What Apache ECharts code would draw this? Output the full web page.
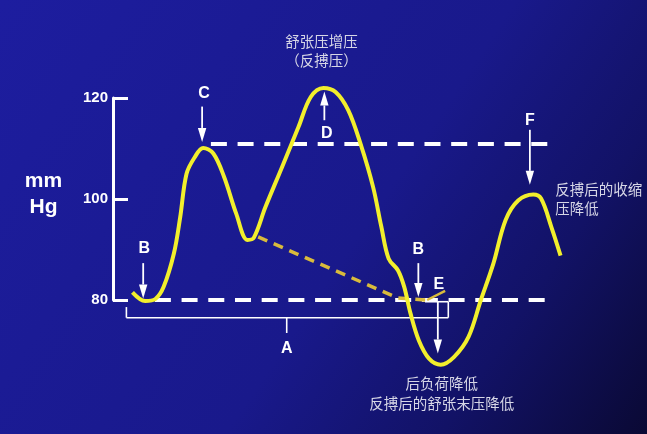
<!DOCTYPE html>
<html><head><meta charset="utf-8">
<script src="https://cdn.jsdelivr.net/npm/echarts@6/dist/echarts.min.js"></script>
<style>html,body{margin:0;padding:0;background:#17178a}#c{width:647px;height:434px}</style>
</head><body><div id="c"></div>
<script>
// Arterial pressure waveform with IABP counterpulsation (time in arbitrary units, pressure mmHg)
const curveTime = [4.0,6.6,8.7,10.4,12.5,13.8,15.1,16.8,18.5,20.6,22.8,25.3,27.6,28.9,31.3,34.7,38.1,40.6,43.2,45.7,48.3,50.8,53.4,55.1,56.6,58.5,59.8,61.1,62.8,64.9,67.3,70.0,73.0,75.5,78.1,80.6,83.2,86.3,87.9,90.0,91.9];
const curvePressure = [81.5,79.8,80.2,82.6,89.2,96.4,105.0,108.3,110.1,109.0,104.4,97.1,91.9,92.3,98.4,106.3,114.3,120.2,122.0,121.2,117.6,111.0,102.4,94.5,88.2,85.9,82.6,77.3,72.0,68.4,67.2,68.7,72.7,79.9,87.2,95.8,99.7,100.9,100.1,94.5,88.8];
// unassisted diastolic decay (dashed) and assisted end-diastolic notch (E)
const unassistedTime = [29.8,31.2,58.5,64.1];
const unassistedPressure = [92.5,91.9,80.4,80.0];
const notchTime = [64.5,68.2];
const notchPressure = [80.0,81.8];
// reference levels
const baselineTime = [8.6,89.9];
const baselinePressure = [80,80];
const systolicTime = [20.1,89.5];
const systolicPressure = [110.9,110.9];
// bracket A segments [t1,p1,t2,p2]
const bracketSegments = [[2.75,78.6,2.75,76.5],[2.75,76.5,68.85,76.5],[68.85,76.5,68.85,79.66],[64.07,79.66,68.85,79.66],[35.67,76.5,35.67,73.47]];
// arrows [t, fromPressure, toPressure]
const arrows = [[6.2,87.3,80.3],[18.3,118.3,111.3],[43.4,115.6,121.3],[62.7,87.3,80.6],[66.7,79.7,69.4],[85.6,113.7,102.8]];
// letters
const letterNames = ['B','C','D','B','E','F','A'];
const letterTime = [6.4,18.7,43.9,62.7,66.9,85.6,35.7];
const letterPressure = [90.2,120.8,113.0,89.9,83.0,115.5,70.4];
// notes
const noteTexts = ['舒张压增压','（反搏压）','后负荷降低','反搏后的舒张末压降低','反搏后的收缩','压降低'];
const noteTime = [42.8,42.8,67.5,67.5,90.8,90.8];
const notePressure = [131.2,127.4,63.5,59.5,101.9,98.2];
const noteAlign = ['center','center','center','center','left','left'];
const yTicks = [80,100,120];

const zip = (a,b) => a.map((v,i)=>[v,b[i]]);
const chart = echarts.init(document.getElementById('c'));
const latin = '"Liberation Sans", Arial, sans-serif';
const cjk = '"Noto Sans CJK SC", sans-serif';

chart.setOption({
  animation:false,
  backgroundColor:{type:'linear',x:0,y:0,x2:1,y2:1,colorStops:[
    {offset:0,color:'#1d1d9f'},{offset:0.55,color:'#19198b'},{offset:0.78,color:'#121266'},{offset:1,color:'#0a0934'}]},
  grid:{left:113,right:47,top:98,bottom:134},
  xAxis:{type:'value',min:0,max:100,show:false},
  yAxis:{type:'value',min:yTicks[0],max:yTicks[yTicks.length-1],interval:20,
    axisLine:{show:true,lineStyle:{color:'#fff',width:3}},
    axisTick:{show:true,inside:true,length:15,lineStyle:{color:'#fff',width:3}},
    axisLabel:{color:'#fff',fontWeight:'bold',fontSize:15,fontFamily:latin,margin:5},
    splitLine:{show:false}},
  graphic:[{type:'text',x:43.5,y:194,style:{text:'mm\nHg',align:'center',verticalAlign:'middle',lineHeight:26,
    fill:'#fff',font:'bold 21px '+latin,textShadowColor:'rgba(0,0,0,0.5)',textShadowOffsetX:1,textShadowOffsetY:1}}],
  series:[
    {type:'line',data:zip(baselineTime,baselinePressure),symbol:'none',clip:false,z:2,
      lineStyle:{color:'#fff',width:4,type:[16,10.7]}},
    {type:'line',data:zip(systolicTime,systolicPressure),symbol:'none',clip:false,z:2,
      lineStyle:{color:'#fff',width:4,type:[16,10.7]}},
    {type:'custom',data:bracketSegments,clip:false,z:3,
      renderItem:(params,api)=>{const s=bracketSegments[params.dataIndex];
        const a=api.coord([s[0],s[1]]),b=api.coord([s[2],s[3]]);
        return {type:'line',shape:{x1:a[0],y1:a[1],x2:b[0],y2:b[1]},style:{stroke:'#fff',lineWidth:1.6}};}},
    {type:'line',data:zip(unassistedTime,unassistedPressure),symbol:'none',clip:false,z:4,
      lineStyle:{color:'#d9bb3c',width:3.5,type:[10,7]}},
    {type:'line',data:zip(notchTime,notchPressure),symbol:'none',clip:false,z:4,
      lineStyle:{color:'#d9bb3c',width:2.5}},
    {type:'line',data:zip(curveTime,curvePressure),symbol:'none',smooth:0.35,clip:false,z:5,
      lineStyle:{color:'#f2ef2c',width:4}},
    {type:'custom',data:arrows,clip:false,z:6,
      renderItem:(params,api)=>{const r=arrows[params.dataIndex];
        const a=api.coord([r[0],r[1]]),b=api.coord([r[0],r[2]]);
        const dir=b[1]>a[1]?1:-1, hl=14, hw=4.2;
        return {type:'group',children:[
          {type:'line',shape:{x1:a[0],y1:a[1],x2:b[0],y2:b[1]-dir*hl},style:{stroke:'#fff',lineWidth:1.8}},
          {type:'polygon',shape:{points:[[b[0]-hw,b[1]-dir*hl],[b[0]+hw,b[1]-dir*hl],[b[0],b[1]]]},style:{fill:'#fff'}}]};}},
    {type:'custom',data:zip(letterTime,letterPressure),clip:false,z:7,
      renderItem:(params,api)=>{const i=params.dataIndex;const p=api.coord([letterTime[i],letterPressure[i]]);
        return {type:'text',x:p[0],y:p[1],style:{text:letterNames[i],fill:'#fff',fontSize:16,fontWeight:'bold',fontFamily:latin,
          align:'center',verticalAlign:'middle',textShadowColor:'rgba(0,0,0,0.45)',textShadowOffsetX:1,textShadowOffsetY:1}};}},
    {type:'custom',data:zip(noteTime,notePressure),clip:false,z:7,
      renderItem:(params,api)=>{const i=params.dataIndex;const p=api.coord([noteTime[i],notePressure[i]]);
        return {type:'text',x:p[0],y:p[1],style:{text:noteTexts[i],fill:'#d6d6e6',fontSize:14.5,fontFamily:cjk,
          align:noteAlign[i],verticalAlign:'middle'}};}}
  ]
});
</script></body></html>
